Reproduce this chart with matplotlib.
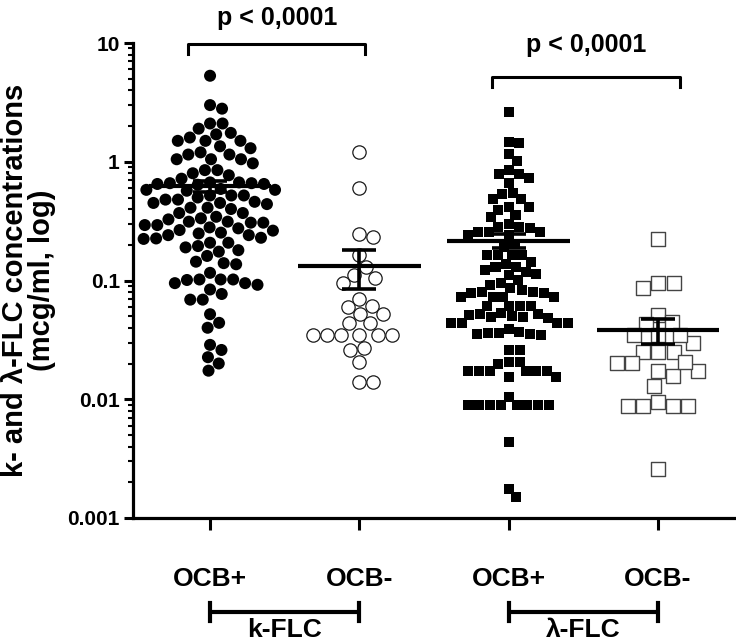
import numpy as np
import matplotlib
matplotlib.use('Agg')
import matplotlib.pyplot as plt
from matplotlib.ticker import FixedLocator, LogLocator, NullFormatter, FixedFormatter
from matplotlib.transforms import blended_transform_factory

plt.rcParams['font.family'] = ['Liberation Sans', 'DejaVu Sans']
plt.rcParams['font.weight'] = 'bold'

# values (mcg/ml)
k_ocb_pos = [5.3, 2.8, 3.0, 2.1, 2.1, 1.9, 1.7, 1.75, 1.6, 1.5, 1.5, 1.5, 1.35, 1.3,
             1.2, 1.15, 1.15, 0.97, 1.05, 1.05, 1.05, 0.85, 0.8, 0.85, 0.77, 0.72,
             0.66, 0.65, 0.67, 0.64, 0.66, 0.65, 0.67,
             0.58, 0.59, 0.58, 0.57,
             0.52, 0.52, 0.48, 0.45, 0.44, 0.45, 0.46, 0.48, 0.50, 0.52,
             0.41, 0.40, 0.41, 0.37, 0.344, 0.37, 0.334, 0.313, 0.313, 0.327,
             0.307, 0.293, 0.28, 0.266, 0.253, 0.241, 0.241, 0.249, 0.263, 0.275, 0.293, 0.307,
             0.226, 0.224, 0.208, 0.19, 0.18, 0.195, 0.208, 0.229,
             0.175, 0.161, 0.144, 0.137, 0.14,
             0.116, 0.102, 0.101, 0.095, 0.092, 0.095, 0.102, 0.102, 0.084,
             0.077, 0.069, 0.069, 0.052, 0.040, 0.044,
             0.0287, 0.026, 0.0226, 0.020, 0.0174]
k_ocb_neg = [1.2, 0.6, 0.247, 0.231, 0.164, 0.129, 0.111, 0.095, 0.105, 0.0695,
             0.061, 0.052, 0.060, 0.052, 0.0436, 0.0436,
             0.0348, 0.0348, 0.0348, 0.0348, 0.0348, 0.0348,
             0.0269, 0.026, 0.0207, 0.0141, 0.0141]
lam_ocb_pos = [2.6, 1.45, 1.48, 1.16, 1.02, 0.853, 0.789, 0.667, 0.726, 0.789,
               0.55, 0.483, 0.483, 0.535, 0.419, 0.393, 0.34, 0.356, 0.413,
               0.284, 0.275, 0.258, 0.241, 0.241, 0.258, 0.258, 0.284, 0.299,
               0.193, 0.203,
               0.164, 0.164, 0.165, 0.163,
               0.144, 0.138, 0.131, 0.122, 0.119, 0.131, 0.111, 0.113,
               0.101, 0.092, 0.096,
               0.086, 0.0805, 0.079, 0.073, 0.073, 0.073, 0.073, 0.079, 0.0805, 0.083,
               0.061, 0.061, 0.061, 0.061,
               0.052, 0.051, 0.049, 0.048, 0.049, 0.050, 0.052, 0.053,
               0.0436, 0.0436, 0.0436, 0.0436,
               0.037, 0.036, 0.0355, 0.035, 0.0355, 0.036, 0.039,
               0.026, 0.026,
               0.0207, 0.0207, 0.0198,
               0.0174, 0.0174, 0.0174, 0.0174, 0.0174, 0.0174, 0.0155, 0.0155,
               0.0104,
               0.009, 0.009, 0.009, 0.009, 0.009, 0.009, 0.009, 0.009,
               0.0044, 0.00175, 0.0015]
lam_ocb_neg = [0.222, 0.0946, 0.086, 0.0946, 0.0513, 0.043, 0.045,
               0.0348, 0.0296, 0.0348, 0.0348, 0.0251, 0.0251, 0.0251,
               0.0201, 0.0174, 0.0157, 0.0174, 0.0201, 0.0207, 0.013,
               0.0087, 0.0087, 0.0087, 0.0087, 0.0095, 0.0026]

groups = ['OCB+', 'OCB-', 'OCB+', 'OCB-']
means = [0.625, 0.132, 0.216, 0.038]
sems = [0.065, 0.047, 0.029, 0.009]
p_text = 'p < 0,0001'


def swarm(ypix, d):
    # simple beeswarm: put each point as close to the centre as it fits
    xs = np.zeros(len(ypix))
    placed = []
    for i in np.argsort(-ypix):
        y = ypix[i]
        cands = [0.0]
        for px, py in placed:
            dy = y - py
            if abs(dy) < d:
                dx = np.sqrt(d * d - dy * dy)
                cands += [px + dx, px - dx]
        cands.sort(key=abs)
        for c in cands:
            if all((c - px) ** 2 + (y - py) ** 2 >= d * d - 1e-6 for px, py in placed):
                xs[i] = c
                break
        placed.append((xs[i], y))
    return xs


fig = plt.figure(figsize=(7.36, 6.41), dpi=100)
ax = fig.add_axes([0.1807, 0.1919, 0.8193, 0.741])
ax.set_yscale('log')
ax.set_ylim(0.001, 10)
ax.set_xlim(0.484, 4.522)

unit_px = ax.transData.transform((2, 1))[0] - ax.transData.transform((1, 1))[0]

styles = [
    dict(marker='o', s=75, facecolor='black', edgecolor='none', d=12.5),
    dict(marker='o', s=92, facecolor='white', edgecolor='#1a1a1a', lw=0.9, d=14.0),
    dict(marker='s', s=52, facecolor='black', edgecolor='none', d=10.8),
    dict(marker='s', s=112, facecolor='white', edgecolor='#444444', lw=1.0, d=15.5),
]
data = [k_ocb_pos, k_ocb_neg, lam_ocb_pos, lam_ocb_neg]

for i, (vals, st) in enumerate(zip(data, styles)):
    vals = np.array(vals)
    pos = i + 1
    ypix = ax.transData.transform(np.column_stack([np.full(len(vals), pos), vals]))[:, 1]
    xoff = swarm(ypix, st['d']) / unit_px
    ax.scatter(pos + xoff, vals, marker=st['marker'], s=st['s'], facecolors=st['facecolor'],
               edgecolors=st['edgecolor'], linewidths=st.get('lw', 0), zorder=2, clip_on=False)
    # mean and SEM
    ax.plot([pos - 0.41, pos + 0.41], [means[i], means[i]], color='black', lw=3.0, zorder=4,
            solid_capstyle='butt')
    ax.errorbar(pos, means[i], yerr=sems[i], color='black', lw=2.6, capsize=12, capthick=2.6,
                zorder=4)

# axes styling
for side in ['top', 'right']:
    ax.spines[side].set_visible(False)
for side in ['left', 'bottom']:
    ax.spines[side].set_linewidth(2.3)

ax.yaxis.set_major_locator(FixedLocator([0.001, 0.01, 0.1, 1, 10]))
ax.yaxis.set_major_formatter(FixedFormatter(['0.001', '0.01', '0.1', '1', '10']))
ax.yaxis.set_minor_locator(LogLocator(base=10, subs=np.arange(2, 10)))
ax.yaxis.set_minor_formatter(NullFormatter())
ax.tick_params(axis='y', which='major', length=6.5, width=2.2, labelsize=15, pad=3)
ax.tick_params(axis='y', which='minor', length=3.6, width=1.5)

ax.set_xticks([1, 2, 3, 4])
ax.set_xticklabels(groups)
ax.tick_params(axis='x', length=8.6, width=2.2, labelsize=19, pad=27)

ax.set_ylabel('k- and \u03bb-FLC concentrations\n(mcg/ml, log)', fontsize=21,
              fontweight='bold', labelpad=8, linespacing=0.95)

# significance brackets
ax.plot([0.85, 0.85, 2.04, 2.04], [8.1, 9.8, 9.8, 8.1], color='black', lw=2.2, clip_on=False)
ax.text(1.45, 16.3, p_text, ha='center', va='center', fontsize=18, fontweight='bold')
ax.plot([2.89, 2.89, 4.15, 4.15], [4.26, 5.2, 5.2, 4.26], color='black', lw=2.2, clip_on=False)
ax.text(3.52, 9.6, p_text, ha='center', va='center', fontsize=18, fontweight='bold')

# group brackets below the x axis
tr = blended_transform_factory(ax.transData, ax.transAxes)
for a, b, name in [(1, 2, 'k-FLC'), (3, 4, '\u03bb-FLC')]:
    ax.plot([a, b], [-0.198, -0.198], color='black', lw=3, transform=tr, clip_on=False,
            solid_capstyle='butt')
    for xx in (a, b):
        ax.plot([xx, xx], [-0.179, -0.217], color='black', lw=3, transform=tr, clip_on=False)
    ax.text((a + b) / 2, -0.236, name, ha='center', va='center', fontsize=19,
            fontweight='bold', transform=tr)

fig.savefig('out.png', dpi=100)
